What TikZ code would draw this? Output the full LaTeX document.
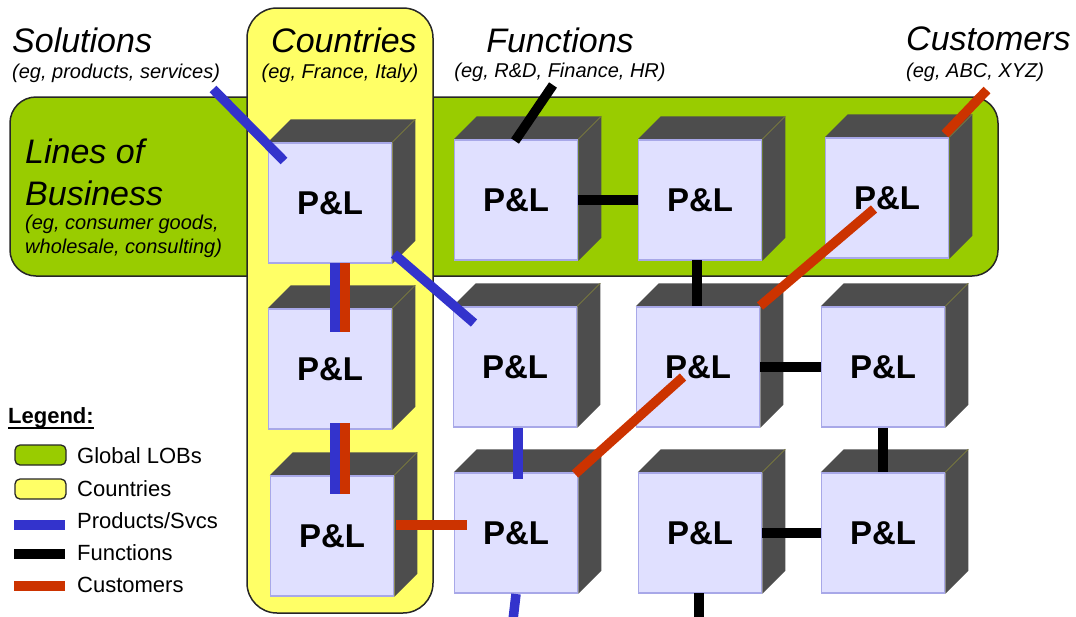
\documentclass[tikz,border=0pt]{standalone}
\usepackage{fontspec}
\setmainfont{Liberation Sans}
\usetikzlibrary{calc}

\definecolor{lobgreen}{HTML}{99CC00}
\definecolor{ctryyellow}{HTML}{FFFF66}
\definecolor{prodblue}{HTML}{3333CC}
\definecolor{custred}{HTML}{CC3300}
\definecolor{plface}{HTML}{E0E0FF}
\definecolor{pledge}{HTML}{A8A8E8}
\definecolor{plside}{HTML}{4D4D4D}
\definecolor{plcrease}{HTML}{76763E}

\pgfdeclarelayer{boxes}
\pgfdeclarelayer{depth}
\pgfsetlayers{boxes,depth,main}

% one P&L block: a front face node plus its dark top and side faces
\newcommand{\plcube}[2]{%
  \node[plnode] (#1) at (#2) {P\&L};
  \begin{pgfonlayer}{depth}
    \fill[plside] (#1.north west) -- ([shift={(23,-23)}]#1.north west)
      -- ([shift={(23,-23)}]#1.north east) -- ([shift={(23,-23)}]#1.south east)
      -- (#1.south east) -- (#1.north east) -- cycle;
    \draw[plcrease, line width=0.8pt] (#1.north east) -- ([shift={(23,-23)}]#1.north east);
  \end{pgfonlayer}}

\begin{document}
\begin{tikzpicture}[x=1pt, y=-1pt,
  plnode/.style={draw=pledge, line width=1.5pt, fill=plface, minimum width=123pt,
    minimum height=120pt, inner sep=0pt, font=\fontsize{33}{36}\selectfont\bfseries},
  title/.style={inner sep=0pt, font=\fontsize{34}{40}\selectfont\itshape},
  subtitle/.style={inner sep=0pt, font=\fontsize{20}{24}\selectfont\itshape},
  legtext/.style={inner sep=0pt, anchor=base west, font=\fontsize{22}{26}\selectfont},
  swatch/.style={draw=black!85, line width=1.3pt, rounded corners=5pt,
    minimum width=51pt, minimum height=20pt, inner sep=0pt},
  band/.style={draw=black!85, line width=1.5pt},
  link/.style={line width=9.5pt},
  prod/.style={link, draw=prodblue},
  func/.style={link, draw=black},
  cust/.style={link, draw=custred}]

\useasboundingbox (0,0) rectangle (1076,616);
\clip (0,0) rectangle (1076,616);

% organising bands
\begin{pgfonlayer}{boxes}
  \draw[band, fill=lobgreen, rounded corners=26pt] (10,97) rectangle (998,276);
  \draw[band, fill=ctryyellow, rounded corners=30pt] (247,8) rectangle (433,613);
\end{pgfonlayer}

% headings
\node[title, anchor=base west] (soltitle) at (12,52) {Solutions};
\node[subtitle, anchor=base west] (solsub) at (12,78) {(eg, products, services)};
\node[title, anchor=base] (ctrytitle) at (344,52) {Countries};
\node[subtitle, anchor=base] (ctrysub) at (340,78) {(eg, France, Italy)};
\node[title, anchor=base] (functitle) at (560,52) {Functions};
\node[subtitle, anchor=base] (funcsub) at (560,77) {(eg, R\&D, Finance, HR)};
\node[title, anchor=base west] (custtitle) at (906,50) {Customers};
\node[subtitle, anchor=base west] (custsub) at (906,77) {(eg, ABC, XYZ)};
\node[title, anchor=base west] (lobtitle1) at (25,163) {Lines of};
\node[title, anchor=base west] (lobtitle2) at (25,205) {Business};
\node[subtitle, anchor=base west] (lobsub1) at (25,229) {(eg, consumer goods,};
\node[subtitle, anchor=base west] (lobsub2) at (25,253) {wholesale, consulting)};

% P&L blocks
\plcube{a11}{330,203}
\plcube{a12}{516,200}
\plcube{a13}{700,200}
\plcube{a14}{887,198}
\plcube{a21}{330,369}
\plcube{a22}{515,367}
\plcube{a23}{698,367}
\plcube{a24}{883,367}
\plcube{a31}{332,536}
\plcube{a32}{516,533}
\plcube{a33}{700,533}
\plcube{a34}{883,533}

% loose ends of the links
\coordinate (solend) at (213,89);
\coordinate (funend) at (553,85);
\coordinate (cusend) at (987,90);
\coordinate (proddown) at (513,620);
\coordinate (funcdown) at (699,620);

% products / services
\draw[prod] (solend) -- ([shift={(-46,-42)}]a11.center);
\draw[prod] ([shift={(64,51)}]a11.center) -- ([shift={(-41,-44)}]a22.center);
\draw[prod] ([shift={(5,60)}]a11.center) -- ([shift={(5,-37)}]a21.center);
\draw[prod] ([shift={(5,54)}]a21.center) -- ([shift={(3,-42)}]a31.center);
\draw[prod] ([shift={(3,61)}]a22.center) -- ([shift={(2,-54)}]a32.center);
\draw[prod] ([shift={(0,61)}]a32.center) -- (proddown);

% functions
\draw[func] (funend) -- ([shift={(-1,-59)}]a12.center);
\draw[func] (a12.east) -- (a13.west);
\draw[func] ([shift={(-3,60)}]a13.center) -- ([shift={(-1,-61)}]a23.center);
\draw[func] (a23.east) -- (a24.west);
\draw[func] (a24.south) -- (a34.north);
\draw[func] (a33.east) -- (a34.west);
\draw[func] ([shift={(-1,60)}]a33.center) -- (funcdown);

% customers
\draw[cust] (cusend) -- ([shift={(58,-64)}]a14.center);
\draw[cust] ([shift={(-13,11)}]a14.center) -- ([shift={(62,-61)}]a23.center);
\draw[cust] ([shift={(-15,10)}]a23.center) -- ([shift={(59,-59)}]a32.center);
\draw[cust] ([shift={(15,60)}]a11.center) -- ([shift={(15,-37)}]a21.center);
\draw[cust] ([shift={(15,54)}]a21.center) -- ([shift={(13,-42)}]a31.center);
\draw[cust] ([shift={(64,-11)}]a31.center) -- ([shift={(-49,-8)}]a32.center);

% legend
\node[inner sep=0pt, anchor=base west, font=\fontsize{22}{26}\selectfont\bfseries] (legend) at (8,423) {Legend:};
\draw[line width=2pt] ([yshift=-5pt]legend.base west) -- ([yshift=-5pt]legend.base east);
\node[swatch, fill=lobgreen] (swlob) at (40.5,455) {};
\node[swatch, fill=ctryyellow] (swctry) at (40.5,489) {};
\coordinate (swprodL) at (14,525);  \coordinate (swprodR) at (65,525);
\coordinate (swfuncL) at (14,554);  \coordinate (swfuncR) at (65,554);
\coordinate (swcustL) at (14,586);  \coordinate (swcustR) at (65,586);
\draw[prod] (swprodL) -- (swprodR);
\draw[func] (swfuncL) -- (swfuncR);
\draw[cust] (swcustL) -- (swcustR);
\node[legtext] (lglob) at (77,463) {Global LOBs};
\node[legtext] (lgctry) at (77,496) {Countries};
\node[legtext] (lgprod) at (77,528) {Products/Svcs};
\node[legtext] (lgfunc) at (77,560) {Functions};
\node[legtext] (lgcust) at (77,592) {Customers};

\end{tikzpicture}
\end{document}
